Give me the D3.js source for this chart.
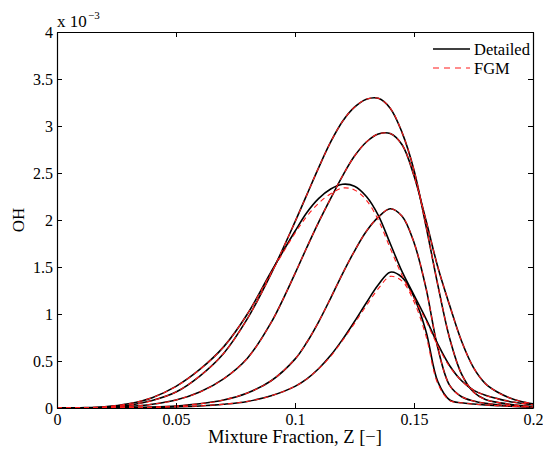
<!DOCTYPE html>
<html>
<head>
<meta charset="utf-8">
<script src="https://cdn.jsdelivr.net/npm/d3@7/dist/d3.min.js"></script>
<style>
  body { margin: 0; background: #fff; }
  text { font-family: "Liberation Serif", "Times New Roman", serif; fill: #000; }
</style>
</head>
<body>
<svg id="chart" width="543" height="453"></svg>
<script>
// Mixture fraction grid shared by all profiles
const zGrid = [0, 0.01, 0.02, 0.03, 0.04, 0.05, 0.06, 0.07, 0.08, 0.09, 0.10,
  0.105, 0.11, 0.115, 0.12, 0.125, 0.13, 0.135, 0.14, 0.145, 0.15,
  0.155, 0.16, 0.165, 0.17, 0.175, 0.18, 0.185, 0.19, 0.195, 0.2];

// OH mass fraction profiles, in units of 1e-3 (detailed chemistry)
const detailedA = [0, 0.002, 0.008, 0.03, 0.08, 0.17, 0.34, 0.58, 0.95, 1.43, 1.98,
  2.27, 2.56, 2.83, 3.05, 3.20, 3.285, 3.295, 3.19, 2.93, 2.53,
  1.94, 1.31, 0.74, 0.36, 0.17, 0.09, 0.06, 0.04, 0.025, 0.015];
const detailedB = [0, 0, 0.004, 0.015, 0.04, 0.085, 0.17, 0.31, 0.53, 0.91, 1.43,
  1.71, 1.98, 2.23, 2.47, 2.68, 2.83, 2.915, 2.92, 2.80, 2.47,
  2.00, 1.50, 1.09, 0.71, 0.43, 0.26, 0.17, 0.11, 0.07, 0.045];
const detailedC = [0, 0.003, 0.013, 0.045, 0.11, 0.23, 0.41, 0.65, 1.00, 1.45, 1.88,
  2.08, 2.23, 2.33, 2.38, 2.36, 2.25, 2.05, 1.75, 1.45, 1.20,
  0.95, 0.68, 0.45, 0.29, 0.19, 0.135, 0.10, 0.07, 0.05, 0.035];
const detailedD = [0, 0, 0.001, 0.004, 0.01, 0.022, 0.045, 0.085, 0.16, 0.29, 0.52,
  0.70, 0.92, 1.17, 1.43, 1.67, 1.88, 2.03, 2.12, 2.04, 1.76,
  1.28, 0.64, 0.24, 0.12, 0.075, 0.05, 0.035, 0.025, 0.017, 0.012];
const detailedE = [0, 0, 0, 0.002, 0.005, 0.012, 0.022, 0.04, 0.07, 0.13, 0.23,
  0.31, 0.42, 0.56, 0.73, 0.92, 1.12, 1.31, 1.445, 1.39, 1.18,
  0.82, 0.28, 0.085, 0.055, 0.042, 0.032, 0.025, 0.018, 0.013, 0.01];

// Same flames from the FGM tabulation
const fgmA = [0, 0.002, 0.008, 0.03, 0.08, 0.17, 0.34, 0.58, 0.95, 1.43, 1.98,
  2.27, 2.56, 2.83, 3.05, 3.20, 3.285, 3.295, 3.19, 2.93, 2.53,
  1.94, 1.31, 0.74, 0.36, 0.17, 0.09, 0.06, 0.04, 0.025, 0.015];
const fgmB = [0, 0, 0.004, 0.015, 0.04, 0.085, 0.17, 0.31, 0.53, 0.91, 1.43,
  1.71, 1.98, 2.23, 2.47, 2.68, 2.83, 2.915, 2.92, 2.80, 2.47,
  2.00, 1.50, 1.09, 0.71, 0.43, 0.26, 0.17, 0.11, 0.07, 0.045];
const fgmC = [0, 0.003, 0.013, 0.045, 0.11, 0.23, 0.41, 0.65, 1.00, 1.44, 1.86,
  2.04, 2.18, 2.28, 2.34, 2.32, 2.21, 2.00, 1.70, 1.41, 1.17,
  0.93, 0.66, 0.44, 0.29, 0.19, 0.135, 0.10, 0.07, 0.05, 0.035];
const fgmD = [0, 0, 0.001, 0.004, 0.01, 0.022, 0.045, 0.085, 0.16, 0.29, 0.52,
  0.70, 0.92, 1.17, 1.43, 1.67, 1.88, 2.03, 2.12, 2.04, 1.76,
  1.28, 0.64, 0.24, 0.12, 0.075, 0.05, 0.035, 0.025, 0.017, 0.012];
const fgmE = [0, 0, 0, 0.002, 0.005, 0.012, 0.022, 0.04, 0.07, 0.13, 0.23,
  0.31, 0.42, 0.55, 0.72, 0.90, 1.09, 1.27, 1.40, 1.35, 1.13,
  0.77, 0.26, 0.08, 0.055, 0.042, 0.032, 0.025, 0.018, 0.013, 0.01];

const detailedSeries = [detailedA, detailedB, detailedC, detailedD, detailedE];
const fgmSeries = [fgmA, fgmB, fgmC, fgmD, fgmE];

const xTicks = [0, 0.05, 0.1, 0.15, 0.2];
const yTicks = [0, 0.5, 1, 1.5, 2, 2.5, 3, 3.5, 4];
const legendLabels = ["Detailed", "FGM"];

const svg = d3.select("#chart");
const plot = { left: 57, right: 533, top: 32, bottom: 408 };

const x = d3.scaleLinear().domain([0, 0.2]).range([plot.left, plot.right]);
const y = d3.scaleLinear().domain([0, 4]).range([plot.bottom, plot.top]);

const line = d3.line()
  .x((d, i) => x(zGrid[i]))
  .y(d => y(d))
  .curve(d3.curveCatmullRom.alpha(0.5));

svg.append("clipPath").attr("id", "plotClip")
  .append("rect")
  .attr("x", plot.left).attr("y", plot.top - 2)
  .attr("width", plot.right - plot.left).attr("height", plot.bottom - plot.top + 2);

const curves = svg.append("g").attr("clip-path", "url(#plotClip)");

curves.selectAll("path.detailed")
  .data(detailedSeries)
  .join("path")
  .attr("class", "detailed")
  .attr("d", line)
  .attr("fill", "none")
  .attr("stroke", "#000")
  .attr("stroke-width", 1.6);

curves.selectAll("path.fgm")
  .data(fgmSeries)
  .join("path")
  .attr("class", "fgm")
  .attr("d", line)
  .attr("fill", "none")
  .attr("stroke", "#ff1a1a")
  .attr("stroke-width", 1.1)
  .attr("stroke-dasharray", "5,4");

// Axes: ticks point inward on all four sides
const fmt = d => String(d);
const tickFont = 16;

const xAxis = svg.append("g")
  .attr("transform", `translate(0,${plot.bottom})`)
  .call(d3.axisBottom(x).tickValues(xTicks).tickFormat(fmt)
    .tickSizeInner(-5).tickSizeOuter(0).tickPadding(6));
const xAxisTop = svg.append("g")
  .attr("transform", `translate(0,${plot.top})`)
  .call(d3.axisTop(x).tickValues(xTicks).tickFormat("")
    .tickSizeInner(-5).tickSizeOuter(0));
const yAxis = svg.append("g")
  .attr("transform", `translate(${plot.left},0)`)
  .call(d3.axisLeft(y).tickValues(yTicks).tickFormat(fmt)
    .tickSizeInner(-5).tickSizeOuter(0).tickPadding(4));
const yAxisRight = svg.append("g")
  .attr("transform", `translate(${plot.right},0)`)
  .call(d3.axisRight(y).tickValues(yTicks).tickFormat("")
    .tickSizeInner(-5).tickSizeOuter(0));

[xAxis, xAxisTop, yAxis, yAxisRight].forEach(g => {
  g.select(".domain").attr("stroke", "#000").attr("stroke-width", 1.2);
  g.selectAll(".tick line").attr("stroke", "#000").attr("stroke-width", 1);
  g.selectAll(".tick text")
    .attr("font-family", "'Liberation Serif', 'Times New Roman', serif")
    .attr("font-size", tickFont)
    .attr("fill", "#000");
});

// Exponent multiplier above the y axis
svg.append("text")
  .attr("x", 57).attr("y", 27)
  .attr("font-size", 17)
  .text("x 10");
svg.append("text")
  .attr("x", 88).attr("y", 19)
  .attr("font-size", 11)
  .text("\u22123");

// Axis titles
svg.append("text")
  .attr("x", (plot.left + plot.right) / 2)
  .attr("y", 443)
  .attr("text-anchor", "middle")
  .attr("font-size", 18.5)
  .text("Mixture Fraction, Z [\u2212]");

svg.append("text")
  .attr("transform", "translate(24,220) rotate(-90)")
  .attr("text-anchor", "middle")
  .attr("font-size", 17)
  .text("OH");

// Legend
const legendStyles = [
  { stroke: "#000", width: 1.6, dash: null },
  { stroke: "#ff1a1a", width: 1.1, dash: "6,5" }
];
const legend = svg.append("g");
legendLabels.forEach((label, i) => {
  const ly = 49 + i * 19;
  legend.append("line")
    .attr("x1", 433).attr("x2", 470)
    .attr("y1", ly).attr("y2", ly)
    .attr("stroke", legendStyles[i].stroke)
    .attr("stroke-width", legendStyles[i].width)
    .attr("stroke-dasharray", legendStyles[i].dash);
  legend.append("text")
    .attr("x", 474).attr("y", ly + 5.5)
    .attr("font-size", 16.5)
    .text(label);
});
</script>
</body>
</html>
